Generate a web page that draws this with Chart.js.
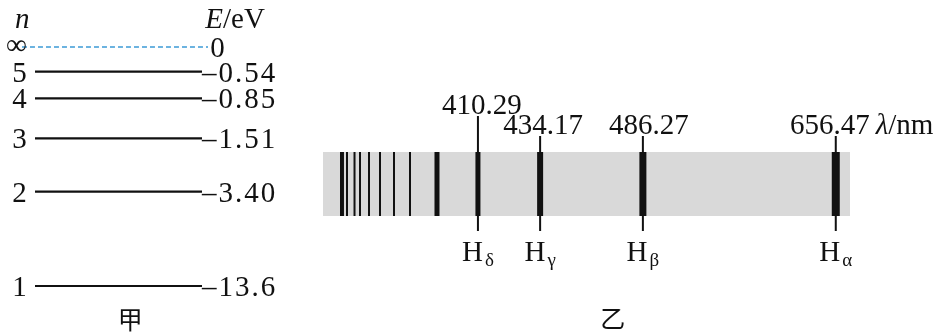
<!DOCTYPE html>
<html>
<head>
<meta charset="utf-8">
<title>氢原子能级与巴耳末系光谱</title>
<script src="https://cdn.jsdelivr.net/npm/chart.js@4.4.1"></script>
<style>
  html, body { margin: 0; padding: 0; background: #fff; }
  #levels { position: absolute; left: 0; top: 0; width: 300px; height: 336px; }
  #spectrum { position: absolute; left: 300px; top: 0; width: 647px; height: 336px; }
</style>
</head>
<body>
<div id="levels"><canvas id="levelChart"></canvas></div>
<div id="spectrum"><canvas id="spectrumChart"></canvas></div>
<script>
// 甲: energy levels (heights are schematic, as in the figure)
const levelN = ['∞', '5', '4', '3', '2', '1'];
const levelEnergy = ['0', '–0.54', '–0.85', '–1.51', '–3.40', '–13.6'];
const levelHeight = [100, 89.7, 78.5, 61.8, 39.5, 0];

// 乙: spectrum strip (positions along the strip are schematic, 0..100)
const lineWavelength = ['410.29', '434.17', '486.27', '656.47'];
const lineName = ['δ', 'γ', 'β', 'α'];
const linePos = [29.4, 41.2, 60.7, 97.3];
const minorPos = [3.6, 4.55, 5.98, 7.02, 8.73, 10.82, 13.47, 16.51, 21.63];

// styles
const serif = '"Liberation Serif", "Times New Roman", serif';
const cjk = '"Noto Sans CJK SC", sans-serif';
const ink = '#111';
const fs = 29;
const lineWidths = [5, 6, 7, 8];
const minorWidths = [4, 2, 2, 2, 2, 2, 2, 2, 5];
const leaderTop = [1.5625, 1.25, 1.25, 1.25];
const labelShift = [4, 3, 6, -6];

const baseOptions = (padding, xr, yr) => ({
    responsive: true,
    maintainAspectRatio: false,
    animation: false,
    layout: { padding },
    plugins: { legend: { display: false }, tooltip: { enabled: false } },
    scales: {
        x: { type: 'linear', display: false, min: xr[0], max: xr[1] },
        y: { type: 'linear', display: false, min: yr[0], max: yr[1] }
    }
});

const segment = (pts, color, width, extra) => ({
    data: pts,
    showLine: true,
    borderColor: color,
    borderWidth: width,
    borderCapStyle: 'butt',
    pointRadius: 0,
    clip: false,
    ...extra
});

// ---- 甲 ----
const levelLabels = {
    id: 'levelLabels',
    afterDraw(chart) {
        const { ctx, scales: { x, y } } = chart;
        ctx.save();
        ctx.fillStyle = ink;
        ctx.textBaseline = 'alphabetic';
        levelN.forEach((n, i) => {
            const py = y.getPixelForValue(levelHeight[i]);
            ctx.font = `${fs}px ${serif}`;
            ctx.textAlign = 'right';
            ctx.fillText(n, x.getPixelForValue(-0.05), py + (i === 0 ? 7 : 10));
            ctx.textAlign = 'left';
            ctx.letterSpacing = '2px';
            ctx.fillText(levelEnergy[i], x.getPixelForValue(i === 0 ? 1.05 : 1.0), py + 10);
            ctx.letterSpacing = '0px';
        });
        // axis headers
        const top = 28;
        ctx.textAlign = 'left';
        ctx.font = `italic ${fs}px ${serif}`;
        ctx.fillText('n', 15, top);
        const ex = x.getPixelForValue(1.02);
        ctx.fillText('E', ex, top);
        const ew = ctx.measureText('E').width;
        ctx.font = `${fs}px ${serif}`;
        ctx.fillText('/eV', ex + ew, top);
        // caption
        ctx.font = `25px ${cjk}`;
        ctx.textAlign = 'center';
        ctx.textBaseline = 'middle';
        ctx.fillText('甲', x.getPixelForValue(0.57), 319);
        ctx.restore();
    }
};

new Chart(document.getElementById('levelChart'), {
    type: 'scatter',
    data: {
        datasets: levelHeight.map((h, i) => i === 0
            ? segment([{ x: -0.078, y: h }, { x: 1.036, y: h }], '#3d9bd6', 1.5, { borderDash: [5, 3] })
            : segment([{ x: 0, y: h }, { x: 1, y: h }], ink, 2.2))
    },
    options: baseOptions({ left: 35, right: 98, top: 47, bottom: 50 }, [0, 1], [0, 100]),
    plugins: [levelLabels]
});

// ---- 乙 ----
const spectrumLabels = {
    id: 'spectrumLabels',
    afterDraw(chart) {
        const { ctx, scales: { x, y } } = chart;
        ctx.save();
        ctx.fillStyle = ink;
        ctx.textBaseline = 'alphabetic';
        const hBase = y.getPixelForValue(-0.70);
        let lastRight = 0, lastBase = 0;
        lineWavelength.forEach((w, i) => {
            const px = x.getPixelForValue(linePos[i]);
            ctx.font = `${fs}px ${serif}`;
            ctx.textAlign = 'center';
            const base = y.getPixelForValue(leaderTop[i]) - 2;
            ctx.fillText(w, px + labelShift[i], base);
            lastRight = px + labelShift[i] + ctx.measureText(w).width / 2;
            lastBase = base;

            const hw = ctx.measureText('H').width;
            ctx.font = `19px ${serif}`;
            const sw = ctx.measureText(lineName[i]).width;
            const left = px - (hw + 2 + sw) / 2;
            ctx.textAlign = 'left';
            ctx.font = `${fs}px ${serif}`;
            ctx.fillText('H', left, hBase);
            ctx.font = `19px ${serif}`;
            ctx.fillText(lineName[i], left + hw + 2, hBase + 5);
        });
        // wavelength unit
        ctx.textAlign = 'left';
        ctx.font = `italic ${fs}px ${serif}`;
        const lx = lastRight + 6;
        ctx.fillText('λ', lx, lastBase);
        const lw = ctx.measureText('λ').width;
        ctx.font = `${fs}px ${serif}`;
        ctx.fillText('/nm', lx + lw, lastBase);
        // caption
        ctx.font = `25px ${cjk}`;
        ctx.textAlign = 'center';
        ctx.textBaseline = 'middle';
        ctx.fillText('乙', x.getPixelForValue(55), 318);
        ctx.restore();
    }
};

const spectrumSets = [
    segment([{ x: 0, y: 1 }, { x: 100, y: 1 }], 'rgba(0,0,0,0)', 0,
        { fill: 'origin', backgroundColor: '#d9d9d9', order: 10 }),
    ...minorPos.map((p, i) => segment([{ x: p, y: 0 }, { x: p, y: 1 }], ink, minorWidths[i])),
    ...linePos.map((p, i) => segment([{ x: p, y: 0 }, { x: p, y: 1 }], ink, lineWidths[i])),
    ...linePos.map((p, i) => segment([{ x: p, y: leaderTop[i] }, { x: p, y: -0.234 }], ink, 2))
];

new Chart(document.getElementById('spectrumChart'), {
    type: 'scatter',
    data: { datasets: spectrumSets },
    options: baseOptions({ left: 23, right: 97, top: 152, bottom: 120 }, [0, 100], [0, 1]),
    plugins: [spectrumLabels]
});
</script>
</body>
</html>
